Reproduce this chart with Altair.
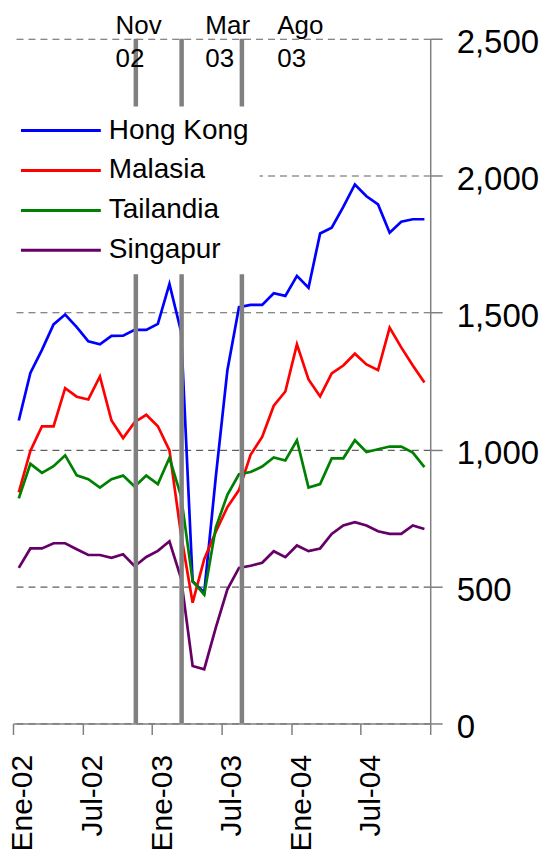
import altair as alt
import pandas as pd

# ---- data ----
series = ["Hong Kong", "Malasia", "Tailandia", "Singapur"]
colors = ["#0000FF", "#FF0000", "#008000", "#660066"]

# monthly values, Ene-02 .. Dic-04 (36 months)
hong_kong = [1106, 1280, 1364, 1457, 1493, 1447, 1395, 1384, 1415, 1416, 1437, 1437,
             1459, 1605, 1431, 518, 478, 900, 1290, 1520, 1528, 1528, 1571, 1561,
             1634, 1591, 1789, 1810, 1886, 1968, 1925, 1895, 1792, 1832, 1841, 1841]
malasia = [844, 995, 1085, 1085, 1224, 1193, 1183, 1267, 1106, 1042, 1100, 1127,
           1085, 997, 690, 441, 600, 700, 790, 852, 981, 1046, 1160, 1212,
           1384, 1256, 1194, 1278, 1307, 1350, 1311, 1290, 1445, 1373, 1307, 1245]
tailandia = [822, 948, 915, 939, 979, 906, 892, 861, 892, 905, 865, 905,
             874, 970, 830, 520, 470, 715, 835, 910, 918, 938, 971, 960,
             1034, 861, 874, 968, 968, 1034, 991, 1001, 1011, 1011, 989, 936]
singapur = [568, 639, 639, 658, 658, 636, 615, 615, 605, 618, 574, 608,
            630, 665, 530, 210, 198, 350, 490, 568, 576, 587, 629, 607,
            650, 629, 639, 692, 723, 735, 723, 702, 692, 692, 723, 710]

tick_months = [0, 6, 12, 18, 24, 30, 36]
y_ticks = [0, 500, 1000, 1500, 2000, 2500]
event_months = [10.6, 14.55, 19.75]          # Nov 02, Mar 03, Ago 03
event_top = ["Nov", "Mar", "Ago"]
event_bottom = ["02", "03", "03"]
event_label_months = [8.85, 16.6, 22.8]

rows = []
for name, vals in zip(series, [hong_kong, malasia, tailandia, singapur]):
    for i, v in enumerate(vals):
        rows.append({"serie": name, "mes": i + 0.5, "valor": v})
df = pd.DataFrame(rows)
ev_df = pd.DataFrame({"mes": event_months})
lab_df = pd.DataFrame({"mes": event_label_months, "top": event_top, "bottom": event_bottom})

FONT = "Liberation Sans"
xscale = alt.Scale(domain=[0, 36], nice=False, zero=False)
yscale = alt.Scale(domain=[0, 2500], nice=False, zero=True)

label_expr = ("datum.value >= 36 ? '' : ((datum.value % 12 == 0 ? 'Ene' : 'Jul') + '-0' + "
              "(2 + floor(datum.value / 12)))")

lines = alt.Chart(df).mark_line(strokeWidth=2.7).encode(
    x=alt.X("mes:Q", scale=xscale, title=None,
            axis=alt.Axis(values=tick_months, labelExpr=label_expr, labelAngle=270,
                          labelFontSize=30, labelFont=FONT, labelColor="black",
                          labelPadding=20, labelOffset=10, tickSize=11, tickColor="#808080",
                          tickWidth=1.5, domainColor="#808080", domainWidth=1.5, grid=False,
                          labelOverlap=False)),
    y=alt.Y("valor:Q", scale=yscale, title=None,
            axis=alt.Axis(orient="right", values=y_ticks, format=",.0f", labelFontSize=33,
                          labelFont=FONT, labelColor="black", labelPadding=14, labelOffset=4,
                          tickSize=12, tickColor="#808080", tickWidth=1.5,
                          domainColor="#808080", domainWidth=1.5, grid=True,
                          gridDash=[7, 5], gridColor="#606060", gridWidth=1.2)),
    color=alt.Color("serie:N", scale=alt.Scale(domain=series, range=colors),
                    legend=alt.Legend(title=None, orient="none", legendX=-16, legendY=68,
                                      padding=10, fillColor="white", symbolType="M0,0H8",
                                      symbolSize=400, symbolStrokeWidth=3, labelFontSize=28,
                                      labelFont=FONT, labelColor="black", labelOffset=74,
                                      rowPadding=12, labelLimit=300)),
)

bars = alt.Chart(ev_df).mark_rule(color="#808080", strokeWidth=4.5).encode(
    x=alt.X("mes:Q", scale=xscale, title=None),
    y=alt.datum(0),
    y2=alt.datum(2500),
)

top_text = alt.Chart(lab_df).mark_text(align="left", baseline="middle", fontSize=26,
                                       font=FONT, color="black").encode(
    x=alt.X("mes:Q", scale=xscale, title=None),
    y=alt.value(-13),
    text="top:N",
)
bot_text = alt.Chart(lab_df).mark_text(align="left", baseline="middle", fontSize=26,
                                       font=FONT, color="black").encode(
    x=alt.X("mes:Q", scale=xscale, title=None),
    y=alt.value(20),
    text="bottom:N",
)

chart = alt.layer(lines, bars, top_text, bot_text).properties(
    width=418, height=686,
    autosize=alt.AutoSizeParams(type="none"),
    padding={"left": 5, "top": 30, "right": 112, "bottom": 136},
    background="white",
).configure_view(stroke="transparent")

chart.save("out.html", embed_options={"renderer": "svg", "actions": False})
